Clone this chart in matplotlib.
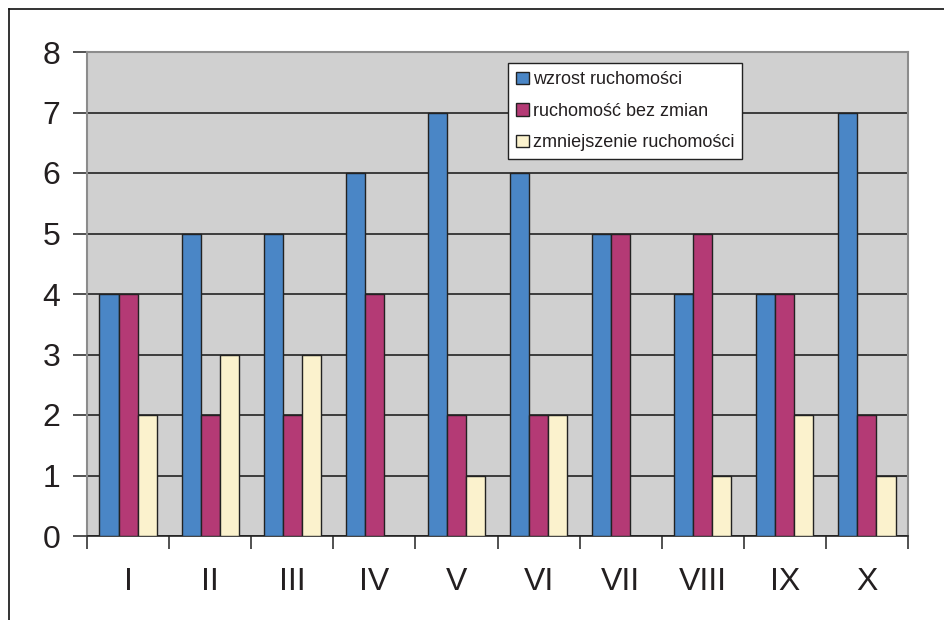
import matplotlib
matplotlib.use("Agg")
import matplotlib.pyplot as plt
from matplotlib.lines import Line2D
import numpy as np

plt.rcParams['font.family'] = ['Liberation Sans', 'DejaVu Sans']

categories = ["I", "II", "III", "IV", "V", "VI", "VII", "VIII", "IX", "X"]
wzrost = [4, 5, 5, 6, 7, 6, 5, 4, 4, 7]
bez_zmian = [4, 2, 2, 4, 2, 2, 5, 5, 4, 2]
zmniejszenie = [2, 3, 3, 0, 1, 2, 0, 1, 2, 1]
series_labels = ["wzrost ruchomości", "ruchomość bez zmian", "zmniejszenie ruchomości"]
colors = ["#4A86C6", "#B43A75", "#FBF2CD"]

fig = plt.figure(figsize=(9.44, 6.2), dpi=100)
ax = fig.add_axes([87 / 944, 84 / 620, 821 / 944, 484 / 620])
ax.set_facecolor("#D0D0D0")

x = np.arange(len(categories))
w = 0.232
for i, (vals, lab, col) in enumerate(zip([wzrost, bez_zmian, zmniejszenie], series_labels, colors)):
    ax.bar(x + (i - 1) * w, vals, width=w, color=col, edgecolor="#222222",
           linewidth=1.0, label=lab, zorder=3)

ax.set_xlim(-0.5, len(categories) - 0.5)
ax.set_ylim(0, 8)
ax.set_yticks(range(0, 9))
ax.yaxis.grid(True, color="#222222", linewidth=1.2, zorder=1)
ax.set_axisbelow(True)

ax.set_xticks(x)
ax.set_xticklabels(categories, fontsize=23, color="#231F20")
ax.set_xticks(np.arange(-0.5, len(categories)), minor=True)
ax.tick_params(axis="x", which="major", length=0, pad=22)
ax.tick_params(axis="x", which="minor", length=9, width=1.2, color="#333333")
ax.tick_params(axis="y", length=10, width=1.2, color="#333333", labelsize=23,
               labelcolor="#231F20", pad=9)

for s in ["left", "top", "right"]:
    ax.spines[s].set_color("#8C8C8C")
    ax.spines[s].set_linewidth(1.5)
ax.spines["bottom"].set_color("#222222")
ax.spines["bottom"].set_linewidth(1.2)

leg = ax.legend(loc="upper left", bbox_to_anchor=(0.513, 0.977), fontsize=13,
                frameon=True, fancybox=False, edgecolor="#222222", framealpha=1,
                handlelength=0.7, handleheight=0.7, handletextpad=0.2,
                labelspacing=0.8, borderpad=0.45, borderaxespad=0)
leg.get_frame().set_linewidth(1.0)
for t in leg.get_texts():
    t.set_color("#231F20")

# outer frame lines along the top and left edges
fig.add_artist(Line2D([9 / 944, 1.0], [1 - 9 / 620, 1 - 9 / 620], color="#111111",
                      linewidth=1.2, transform=fig.transFigure))
fig.add_artist(Line2D([9 / 944, 9 / 944], [0, 1 - 9 / 620], color="#111111",
                      linewidth=1.2, transform=fig.transFigure))

fig.savefig("out.png", dpi=100)
